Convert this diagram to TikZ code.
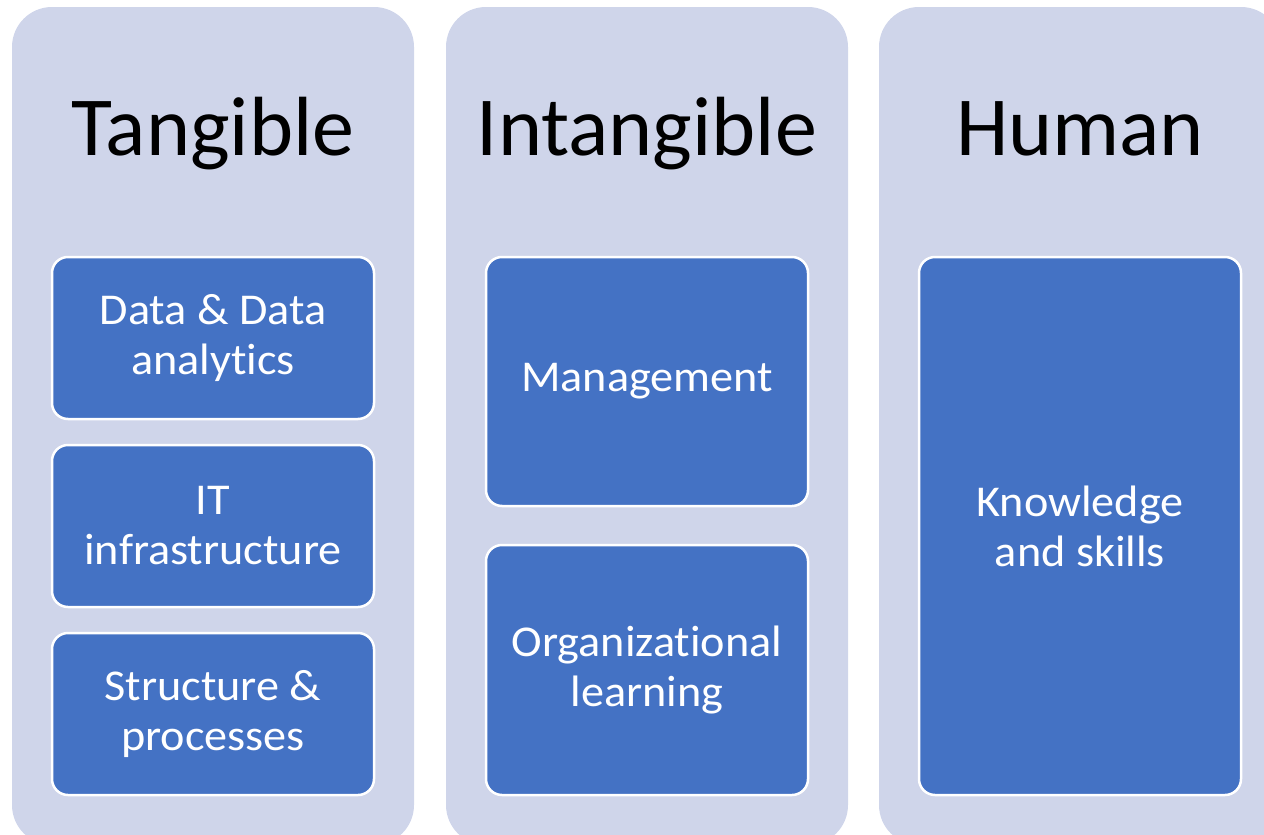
\documentclass[tikz,border=0pt]{standalone}
\usepackage{fontspec}
\setmainfont{Carlito}[Ligatures=NoCommon]
\newfontfamily\blockfont{Carlito}[Ligatures=NoCommon, FakeStretch=1.05]
\definecolor{panelfill}{HTML}{CFD5EA}
\definecolor{itemfill}{HTML}{4472C4}

\begin{document}
\begin{tikzpicture}[x=1pt, y=-1pt,
	column/.style={fill=panelfill, rounded corners=40pt, minimum width=402pt, minimum height=838pt, inner sep=0pt},
	heading/.style={anchor=base, font=\fontsize{84}{98}\selectfont},
	block/.style={fill=itemfill, draw=white, line width=2.5pt, rounded corners=16pt, minimum width=322pt, text=white, align=center, font=\blockfont\fontsize{44}{50}\selectfont, inner sep=0pt}]
	\useasboundingbox (0,0) rectangle (1264,835);
	
	% the three columns
	\node[column](T) at (213,426) {};
	\node[column](I) at (647,426) {};
	\node[column](H) at (1080,426) {};
	
	\node[heading](Tt) at (213,155) {Tangible};
	\node[heading](It) at (647,155) {Intangible};
	\node[heading](Ht) at (1080,155) {Human};
	
	% tangible
	\node[block, minimum height=162pt](T1) at (213,338) {Data \& Data\\analytics};
	\node[block, minimum height=162pt](T2) at (213,526) {IT\\infrastructure};
	\node[block, minimum height=162pt](T3) at (213,714) {Structure \&\\processes};
	
	% intangible
	\node[block, minimum height=249pt](I1) at (647,381.5) {Management};
	\node[block, minimum height=250pt](I2) at (647,670) {Organizational\\learning};
	
	% human
	\node[block, minimum height=538pt](H1) at (1080,526) {Knowledge\\and skills};
	
\end{tikzpicture}
\end{document}
